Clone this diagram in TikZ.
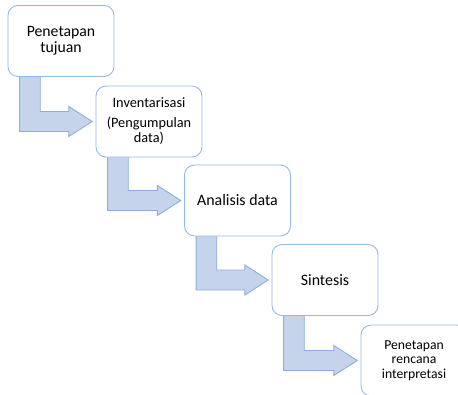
\documentclass[tikz,border=0pt]{standalone}
\usepackage{fontspec}
\setmainfont{Carlito}
\usetikzlibrary{calc,backgrounds}
\definecolor{boxline}{HTML}{95B9E6}
\definecolor{arrowfill}{HTML}{C5D4EB}
\definecolor{arrowline}{HTML}{8EAEDD}
\tikzset{
  stepbox/.style={draw=boxline, line width=0.9pt, fill=white, rounded corners=10pt,
    minimum width=106pt, minimum height=71pt, inner sep=0pt, align=center, text=black},
  bentarrow/.style={fill=arrowfill, draw=arrowline, line width=0.9pt, line join=miter}
}
\newcommand{\bentconn}[2]{%
  \path[bentarrow] let \p1=(#1.south west), \p2=(#2.west) in
    (\x1+12pt,\y1+1pt) -- (\x1+32.7pt,\y1+1pt) -- (\x1+32.7pt,\y2+10pt)
    -- (\x2-26.7pt,\y2+10pt) -- (\x2-26.7pt,\y2+15pt) -- (\x2-3.3pt,\y2)
    -- (\x2-26.7pt,\y2-15pt) -- (\x2-26.7pt,\y2-10pt) -- (\x1+12pt,\y2-10pt) -- cycle;}
\begin{document}
\begin{tikzpicture}[x=1pt,y=-1pt]
\useasboundingbox (0,0) rectangle (458,394);
\node[stepbox, font=\fontsize{15.75}{16}\selectfont] (b1) at (61,41) {Penetapan\\tujuan};
\node[stepbox, font=\fontsize{14.3}{15}\selectfont] (b2) at (149,121.5) {Inventarisasi\\[5pt](Pengumpulan\\data)};
\node[stepbox, font=\fontsize{15.9}{16}\selectfont] (b3) at (237.5,200.5) {Analisis data};
\node[stepbox, font=\fontsize{15.9}{16}\selectfont] (b4) at (325,280) {Sintesis};
\node[stepbox, font=\fontsize{13.7}{14.7}\selectfont] (b5) at (414,360.5) {Penetapan\\rencana\\interpretasi};
\begin{pgfonlayer}{background}
\bentconn{b1}{b2}
\bentconn{b2}{b3}
\bentconn{b3}{b4}
\bentconn{b4}{b5}
\end{pgfonlayer}
\end{tikzpicture}
\end{document}
